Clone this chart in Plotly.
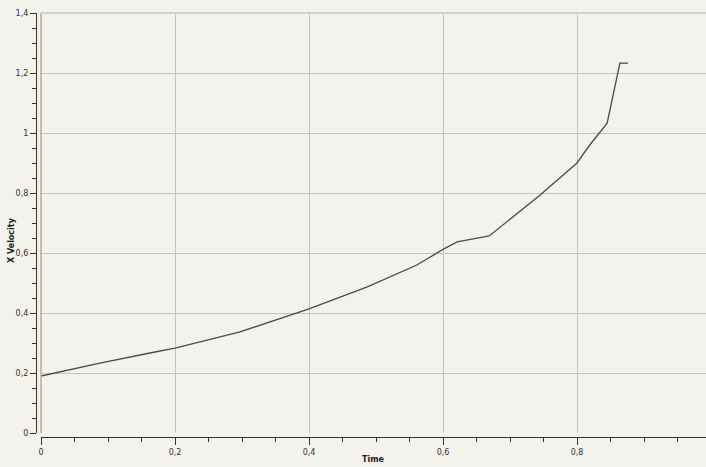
import plotly.graph_objects as go

time = [0.0, 0.088, 0.17, 0.2, 0.297, 0.4, 0.487, 0.561, 0.6, 0.621, 0.645, 0.669, 0.745, 0.8, 0.819, 0.845, 0.864, 0.876]
x_velocity = [0.19, 0.233, 0.27, 0.283, 0.337, 0.414, 0.487, 0.56, 0.612, 0.637, 0.647, 0.657, 0.793, 0.9, 0.96, 1.033, 1.233, 1.233]

y_ticks = [0, 0.2, 0.4, 0.6, 0.8, 1, 1.2, 1.4]
x_ticks = [0, 0.2, 0.4, 0.6, 0.8]

W, H = 706, 467
ml, mt, mb = 36, 13, 30
pw = W - ml
ph = H - mt - mb

fig = go.Figure()
fig.add_trace(go.Scatter(x=time, y=x_velocity, mode="lines",
                         line=dict(color="#4a4a4a", width=1.3), showlegend=False))

font = dict(family="DejaVu Sans", size=8, color="#333333")
grid = "#c2bdf0"

fig.update_layout(
    width=W, height=H,
    margin=dict(l=ml, r=0, t=mt, b=mb),
    paper_bgcolor="#f4f2ec",
    plot_bgcolor="#f4f2ec",
    separators=", ",
    font=font,
    xaxis=dict(
        domain=[5 / pw, 1], range=[0, (pw - 5) / 670], anchor="free", position=0,
        tickvals=x_ticks, ticks="outside", ticklen=7, tickcolor="#333",
        showline=True, linecolor="#333", linewidth=1.2, automargin=False,
        showgrid=True, gridcolor=grid, gridwidth=1, zeroline=False,
        minor=dict(dtick=0.05, ticks="outside", ticklen=4, tickcolor="#333", showgrid=False),
        tickfont=font,
    ),
    yaxis=dict(
        domain=[4 / ph, 1], range=[0, 1.4], anchor="free", position=0,
        tickvals=y_ticks, ticks="outside", ticklen=6, tickcolor="#333",
        showline=True, linecolor="#333", linewidth=1.2, automargin=False,
        showgrid=True, gridcolor=grid, gridwidth=1, zeroline=False,
        minor=dict(dtick=0.05, ticks="outside", ticklen=4, tickcolor="#333", showgrid=False),
        tickfont=font,
    ),
    shapes=[
        dict(type="line", xref="paper", yref="paper", x0=5 / pw, x1=5 / pw, y0=4 / ph, y1=1,
             line=dict(color="#b9ad8c", width=1.5)),
        dict(type="line", xref="paper", yref="paper", x0=5 / pw, x1=1, y0=1, y1=1,
             line=dict(color="#c4c8b8", width=1.5)),
    ],
    annotations=[
        dict(text="<b>Time</b>", xref="paper", yref="paper",
             x=(373 - ml) / pw, y=-(459 - (H - mb)) / ph, xanchor="center", yanchor="middle",
             showarrow=False, font=dict(family="DejaVu Sans", size=8, color="#222")),
        dict(text="<b>X Velocity</b>", xref="paper", yref="paper",
             x=-(ml - 11) / pw, y=(H - mb - 240) / ph, xanchor="center", yanchor="middle",
             textangle=-90, showarrow=False, font=dict(family="DejaVu Sans", size=8, color="#222")),
    ],
)

fig.write_html("out.html", config={"displayModeBar": False},
               post_script="document.body.style.margin='0';document.body.style.overflow='hidden';")
